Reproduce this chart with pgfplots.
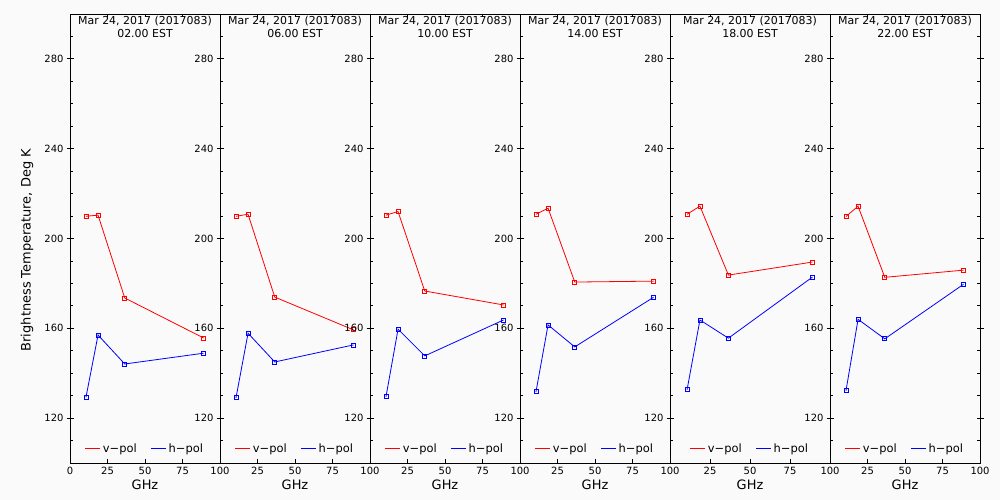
\documentclass[border=0pt]{standalone}
\usepackage{fontspec}
\setmainfont{DejaVu Sans}
\usepackage{pgfplots}
\pgfplotsset{compat=1.18}
\definecolor{bgc}{RGB}{250,250,250}
\pgfplotsset{
  panel/.style={
    anchor=south west, scale only axis, height=449bp,
    xmin=0, xmax=100, ymin=100, ymax=300,
    axis line style={line width=0.9bp, black},
    every tick/.style={line width=0.8bp, black},
    tick align=inside, major tick length=3.5bp, minor tick length=3bp,
    xtick={25,50,75,100}, xtick pos=both,
    ytick={120,160,200,240,280},
    minor ytick={110,130,140,150,170,180,190,210,220,230,250,260,270,290},
    ytick pos=left,
    extra y ticks={120,160,200,240,280}, extra y tick labels={},
    extra y tick style={tick align=outside, major tick length=3.5bp},
    /pgf/number format/assume math mode=true,
    tick label style={font=\fontsize{10}{12}\selectfont},
    yticklabel style={xshift=-3bp},
    xticklabel style={yshift=-1bp},
    xlabel={GHz},
    xlabel style={font=\fontsize{13}{15}\selectfont, at={(axis description cs:0.5,0)}, anchor=center, yshift=-22bp},
    title style={font=\fontsize{11}{12.5}\selectfont, at={(axis description cs:0.5,1)}, anchor=north, yshift=-5bp, align=center},
    legend style={at={(axis description cs:0.5,0)}, anchor=south, yshift=5bp, draw=none, fill=none,
      font=\fontsize{11.5}{12}\selectfont, legend columns=2,
      /tikz/every even column/.append style={column sep=12bp}},
    legend image code/.code={\draw[#1, line width=0.9bp] (0bp,0bp) -- (15bp,0bp);},
  },
  vp/.style={red, line width=0.8bp, mark=square, mark size=2bp, mark options={solid, line width=0.8bp}},
  hp/.style={blue, line width=0.8bp, mark=square, mark size=2bp, mark options={solid, line width=0.8bp}},
}
\begin{document}
\begin{tikzpicture}[x=1bp,y=1bp]
\fill[bgc] (0,0) rectangle (1000,500);
% Panel 1
\begin{axis}[panel, at={(70bp,37bp)}, width=150bp,
  xtick={0,25,50,75,100},
  title={Mar 24, 2017 (2017083)\\02.00 EST},
  ylabel={Brightness Temperature, Deg K},
  ylabel style={font=\fontsize{13}{15}\selectfont, at={(axis description cs:-0.287,0.474)}, anchor=center}]
\addlegendimage{red}\addlegendimage{blue}
\addplot[vp] coordinates {(10.65,209.9) (18.7,210.4) (36.5,173.5) (89.0,155.7)};
\addplot[hp] coordinates {(10.65,129.3) (18.7,157.0) (36.5,144.1) (89.0,148.9)};
\legend{v−pol,h−pol}
\end{axis}
% Panel 2
\begin{axis}[panel, at={(220bp,37bp)}, width=150bp,
  title={Mar 24, 2017 (2017083)\\06.00 EST}]
\addlegendimage{red}\addlegendimage{blue}
\addplot[vp] coordinates {(10.65,209.9) (18.7,210.8) (36.5,173.9) (89.0,159.3)};
\addplot[hp] coordinates {(10.65,129.0) (18.7,157.8) (36.5,145.0) (89.0,152.6)};
\legend{v−pol,h−pol}
\end{axis}
% Panel 3
\begin{axis}[panel, at={(370bp,37bp)}, width=150bp,
  title={Mar 24, 2017 (2017083)\\10.00 EST}]
\addlegendimage{red}\addlegendimage{blue}
\addplot[vp] coordinates {(10.65,210.4) (18.7,212.0) (36.5,176.6) (89.0,170.4)};
\addplot[hp] coordinates {(10.65,129.5) (18.7,159.6) (36.5,147.7) (89.0,163.7)};
\legend{v−pol,h−pol}
\end{axis}
% Panel 4
\begin{axis}[panel, at={(520bp,37bp)}, width=150bp,
  title={Mar 24, 2017 (2017083)\\14.00 EST}]
\addlegendimage{red}\addlegendimage{blue}
\addplot[vp] coordinates {(10.65,210.8) (18.7,213.5) (36.5,180.6) (89.0,181.0)};
\addplot[hp] coordinates {(10.65,131.7) (18.7,161.5) (36.5,151.7) (89.0,173.8)};
\legend{v−pol,h−pol}
\end{axis}
% Panel 5
\begin{axis}[panel, at={(670bp,37bp)}, width=160bp,
  title={Mar 24, 2017 (2017083)\\18.00 EST}]
\addlegendimage{red}\addlegendimage{blue}
\addplot[vp] coordinates {(10.65,210.8) (18.7,214.4) (36.5,183.7) (89.0,189.5)};
\addplot[hp] coordinates {(10.65,132.6) (18.7,163.7) (36.5,155.6) (89.0,182.8)};
\legend{v−pol,h−pol}
\end{axis}
% Panel 6
\begin{axis}[panel, at={(830bp,37bp)}, width=150bp, ytick pos=both,
  title={Mar 24, 2017 (2017083)\\22.00 EST}]
\addlegendimage{red}\addlegendimage{blue}
\addplot[vp] coordinates {(10.65,209.8) (18.7,214.4) (36.5,182.7) (89.0,185.9)};
\addplot[hp] coordinates {(10.65,132.2) (18.7,164.0) (36.5,155.3) (89.0,179.6)};
\legend{v−pol,h−pol}
\end{axis}
\end{tikzpicture}
\end{document}
